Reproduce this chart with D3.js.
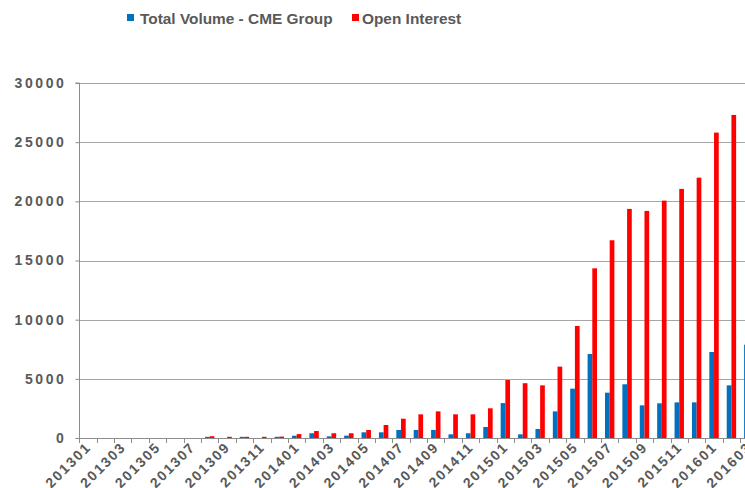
<!DOCTYPE html>
<html>
<head>
<meta charset="utf-8">
<script src="https://cdnjs.cloudflare.com/ajax/libs/d3/7.8.5/d3.min.js"></script>
<style>
  body { margin: 0; background: #fff; }
  svg { display: block; font-family: "Liberation Sans", Arial, sans-serif; }
</style>
</head>
<body>
<svg id="chart"></svg>
<script>
// months shown on the category axis
const months = [
  "201301","201302","201303","201304","201305","201306","201307","201308","201309","201310","201311","201312",
  "201401","201402","201403","201404","201405","201406","201407","201408","201409","201410","201411","201412",
  "201501","201502","201503","201504","201505","201506","201507","201508","201509","201510","201511","201512",
  "201601","201602","201603"
];

// Total Volume - CME Group
const totalVolume = [
  0, 0, 0, 0, 0, 0, 0, 100, 0, 100, 0, 100,
  190, 400, 140, 200, 480, 480, 680, 680, 680, 310, 400, 930,
  2950, 310, 760, 2250, 4170, 7100, 3830, 4540, 2760, 2930, 3010, 3010,
  7270, 4450, 7890
];

// Open Interest
const openInterest = [
  0, 0, 0, 0, 0, 0, 0, 150, 100, 100, 100, 120,
  330, 590, 400, 400, 680, 1100, 1630, 2000, 2250, 2000, 2000, 2510,
  4900, 4630, 4450, 6030, 9470, 14340, 16710, 19360, 19190, 20060, 21050, 22000,
  25810, 27300, 28400
];

const yTicks = [0, 5000, 10000, 15000, 20000, 25000, 30000];
const seriesNames = ["Total Volume - CME Group", "Open Interest"];
const seriesColors = ["#0070C0", "#FF0000"];

const width = 745;
const height = 488;
const textColor = "#595959";

const svg = d3.select("#chart").attr("width", width).attr("height", height);

// plot area (the original is cropped on the right, so the band range runs past the edge)
const plotLeft = 79.3;
const step = 17.39;
const plotTop = 83;
const plotBottom = 438;
const plotRight = plotLeft + step * months.length;

const x = d3.scaleBand()
  .domain(months)
  .range([plotLeft, plotRight])
  .padding(0);

const xInner = d3.scaleBand()
  .domain(seriesNames)
  .range([0, x.bandwidth()])
  .paddingInner(0)
  .paddingOuter(0.85);

const y = d3.scaleLinear().domain([0, 30000]).range([plotBottom, plotTop]);

// gridlines
svg.append("g")
  .selectAll("line")
  .data(yTicks.filter(d => d > 0))
  .enter()
  .append("line")
  .attr("x1", plotLeft)
  .attr("x2", plotRight)
  .attr("y1", d => Math.round(y(d)) + 0.5)
  .attr("y2", d => Math.round(y(d)) + 0.5)
  .attr("stroke", "#a6a6a6")
  .attr("stroke-width", 1.2);

// bars
const rows = months.map((m, i) => ({ month: m, values: [totalVolume[i], openInterest[i]] }));

const groups = svg.append("g")
  .selectAll("g")
  .data(rows)
  .enter()
  .append("g")
  .attr("transform", d => `translate(${x(d.month)},0)`);

groups.selectAll("rect")
  .data(d => d.values.map((v, k) => ({ key: seriesNames[k], value: v, color: seriesColors[k] })))
  .enter()
  .append("rect")
  .attr("x", d => xInner(d.key))
  .attr("width", xInner.bandwidth())
  .attr("y", d => y(d.value))
  .attr("height", d => plotBottom - y(d.value))
  .attr("fill", d => d.color);

// y axis
const yAxis = d3.axisLeft(y)
  .tickValues(yTicks)
  .tickSize(4)
  .tickPadding(9)
  .tickFormat(d3.format("d"));

const yG = svg.append("g")
  .attr("transform", `translate(${Math.round(plotLeft) + 0.5},0)`)
  .call(yAxis);
yG.select(".domain").attr("stroke", "#8c8c8c").attr("d", `M-4,${plotTop}H0V${plotBottom}`);
yG.selectAll(".tick line").attr("stroke", "#8c8c8c");
yG.selectAll(".tick text")
  .attr("fill", textColor)
  .attr("font-size", "14px")
  .attr("font-weight", "bold")
  .attr("letter-spacing", "2.6px")
  .attr("font-family", "Liberation Sans, Arial, sans-serif");

// x axis: ticks at category boundaries
const xG = svg.append("g");
xG.append("line")
  .attr("x1", plotLeft)
  .attr("x2", plotRight)
  .attr("y1", plotBottom + 0.5)
  .attr("y2", plotBottom + 0.5)
  .attr("stroke", "#8c8c8c");

xG.selectAll(".xtick")
  .data(months)
  .enter()
  .append("line")
  .attr("class", "xtick")
  .attr("x1", d => Math.round(x(d)) + 0.5)
  .attr("x2", d => Math.round(x(d)) + 0.5)
  .attr("y1", plotBottom)
  .attr("y2", plotBottom + 5)
  .attr("stroke", "#8c8c8c");

xG.selectAll(".xlabel")
  .data(months.filter((d, i) => i % 2 === 0))
  .enter()
  .append("text")
  .attr("class", "xlabel")
  .attr("transform", d => `translate(${x(d) + x.bandwidth() / 2 + 4},${plotBottom + 10}) rotate(-45)`)
  .attr("text-anchor", "end")
  .attr("fill", textColor)
  .attr("font-size", "14px")
  .attr("font-weight", "bold")
  .attr("letter-spacing", "1.8px")
  .text(d => d);

// legend
const legend = svg.append("g");
const legendItems = [
  { name: seriesNames[0], color: seriesColors[0], sx: 127, tx: 140 },
  { name: seriesNames[1], color: seriesColors[1], sx: 352, tx: 362 }
];
legendItems.forEach(item => {
  legend.append("rect")
    .attr("x", item.sx)
    .attr("y", 14)
    .attr("width", 7)
    .attr("height", 7)
    .attr("fill", item.color);
  legend.append("text")
    .attr("x", item.tx)
    .attr("y", 24)
    .attr("fill", textColor)
    .attr("font-size", "15.4px")
    .attr("font-weight", "bold")
    .text(item.name);
});
</script>
</body>
</html>
